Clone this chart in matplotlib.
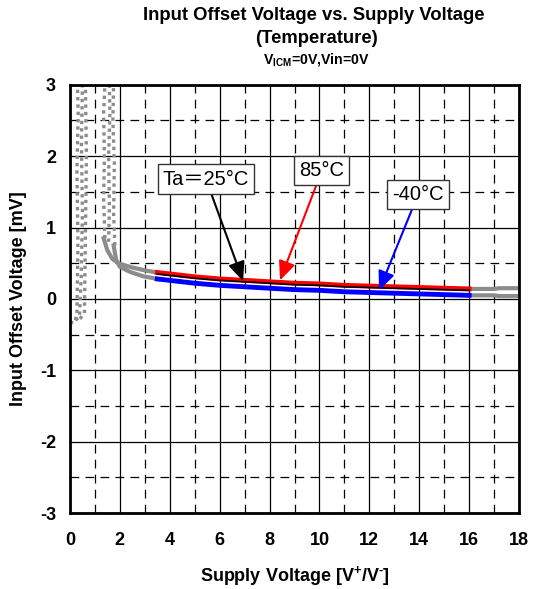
import matplotlib
matplotlib.use("Agg")
import matplotlib.pyplot as plt
from matplotlib.ticker import MultipleLocator

plt.rcParams['font.family'] = ['Liberation Sans', 'DejaVu Sans']
plt.rcParams['font.weight'] = 'bold'
plt.rcParams['axes.unicode_minus'] = False
plt.rcParams['mathtext.fontset'] = 'custom'
plt.rcParams['mathtext.rm'] = 'Liberation Sans:bold'
plt.rcParams['mathtext.bf'] = 'Liberation Sans:bold'

# measured curves (Vdd in V, Vio in mV)
supply = [3.5, 4, 5, 6, 7, 8, 9, 10, 11, 12, 13, 14, 15, 16]
vio_85 = [0.37, 0.35, 0.31, 0.28, 0.26, 0.24, 0.22, 0.21, 0.19, 0.18, 0.17, 0.16, 0.15, 0.14]
vio_25 = [0.35, 0.33, 0.29, 0.26, 0.24, 0.22, 0.20, 0.19, 0.17, 0.16, 0.15, 0.14, 0.13, 0.12]
vio_m40 = [0.28, 0.26, 0.22, 0.19, 0.17, 0.15, 0.13, 0.12, 0.10, 0.09, 0.08, 0.07, 0.06, 0.05]

# grey parts outside the guaranteed range
low_x_up = [1.35, 1.5, 1.7, 2.0, 2.5, 3.0, 3.5]
low_y_up = [0.85, 0.68, 0.56, 0.49, 0.44, 0.40, 0.37]
low_x_dn = [1.75, 1.85, 2.0, 2.4, 2.9, 3.5]
low_y_dn = [0.75, 0.55, 0.45, 0.38, 0.32, 0.28]
high_x = [16, 17, 17.2, 18]
high_y_up = [0.14, 0.14, 0.15, 0.15]
high_y_dn = [0.05, 0.05, 0.04, 0.04]

# dotted traces below minimum supply
dot_x = [
    [0.0, 0.2, 0.28, 0.32, 0.28, 0.33, 0.3],
    [0.22, 0.38, 0.45, 0.5, 0.46, 0.5],
    [0.4, 0.58, 0.62, 0.66, 0.62],
    [1.4, 1.35, 1.38, 1.35, 1.4],
    [1.55, 1.58, 1.55, 1.6, 1.58],
    [1.8, 1.75, 1.78, 1.72, 1.75],
]
dot_y = [
    [-0.33, -0.33, -0.2, 0.8, 1.8, 2.6, 3.0],
    [-0.3, -0.25, 0.3, 1.2, 2.2, 3.0],
    [-0.28, -0.2, 0.9, 2.0, 3.0],
    [0.85, 1.4, 2.0, 2.6, 3.0],
    [0.8, 1.3, 2.0, 2.6, 3.0],
    [0.75, 1.2, 1.9, 2.5, 3.0],
]

fig = plt.figure(figsize=(5.34, 5.89), dpi=100)
ax = fig.add_axes([0.131, 0.129, 0.841, 0.727])

ax.set_xlim(0, 18)
ax.set_ylim(-3, 3)
ax.xaxis.set_major_locator(MultipleLocator(2))
ax.xaxis.set_minor_locator(MultipleLocator(1))
ax.yaxis.set_major_locator(MultipleLocator(1))
ax.yaxis.set_minor_locator(MultipleLocator(0.5))
ax.grid(which='major', color='black', lw=0.9, ls='-')
ax.grid(which='minor', color='black', lw=0.9, ls=(0, (7, 5)))
ax.set_axisbelow(True)
ax.tick_params(which='both', length=0)
ax.tick_params(axis='x', pad=13.5, labelsize=13)
ax.tick_params(axis='y', pad=10, labelsize=13)
for s in ax.spines.values():
    s.set_linewidth(2)

for xs, ys in zip(dot_x, dot_y):
    ax.plot(xs, ys, color='#8c8c8c', lw=2.4, ls=(0, (1, 1.2)))
ax.plot(low_x_up, low_y_up, color='#8c8c8c', lw=3)
ax.plot(low_x_dn, low_y_dn, color='#8c8c8c', lw=3)
ax.plot(high_x, high_y_up, color='#8c8c8c', lw=3)
ax.plot(high_x, high_y_dn, color='#8c8c8c', lw=3)

ax.plot(supply, vio_m40, color='#0000ff', lw=3.5)
ax.plot(supply, vio_85, color='#ff0000', lw=3.5)
ax.plot(supply, vio_25, color='black', lw=1.2)

box = dict(boxstyle='square,pad=0.25', fc='white', ec='#333333', lw=1)
head = '-|>,head_length=0.8,head_width=0.35'
ax.annotate('Ta＝25°C', xy=(6.94, 0.25), xytext=(5.45, 1.68), ha='center', va='center',
            fontsize=14.5, fontweight='normal', family=['Liberation Sans', 'Noto Sans CJK JP'],
            bbox=box, arrowprops=dict(arrowstyle=head, color='black', lw=1.5,
                                      shrinkA=0, shrinkB=0))
ax.annotate('85°C', xy=(8.42, 0.26), xytext=(10.1, 1.8), ha='center', va='center',
            fontsize=14.5, fontweight='normal', bbox=box,
            arrowprops=dict(arrowstyle=head, color='red', lw=1.5, shrinkA=0, shrinkB=0))
ax.annotate('-40°C', xy=(12.39, 0.12), xytext=(13.95, 1.46), ha='center', va='center',
            fontsize=14.5, fontweight='normal', bbox=box,
            arrowprops=dict(arrowstyle=head, color='blue', lw=1.5, shrinkA=0, shrinkB=0))

ax.set_xlabel(r'Supply Voltage [V$^{+}$/V$^{\text{-}}$]', fontsize=13, fontweight='bold',
              labelpad=11)
ax.set_ylabel('Input Offset Voltage [mV]', fontsize=13, fontweight='bold', labelpad=9)

fig.text(0.588, 0.973, 'Input Offset Voltage vs. Supply Voltage', ha='center', va='center',
         fontsize=13.3, fontweight='bold')
fig.text(0.593, 0.934, '(Temperature)', ha='center', va='center', fontsize=13.3, fontweight='bold')
fig.text(0.593, 0.899, r'V$_{\mathbf{ICM}}$=0V,Vin=0V', ha='center', va='center',
         fontsize=10.2, fontweight='bold')

fig.savefig('out.png', dpi=100)
